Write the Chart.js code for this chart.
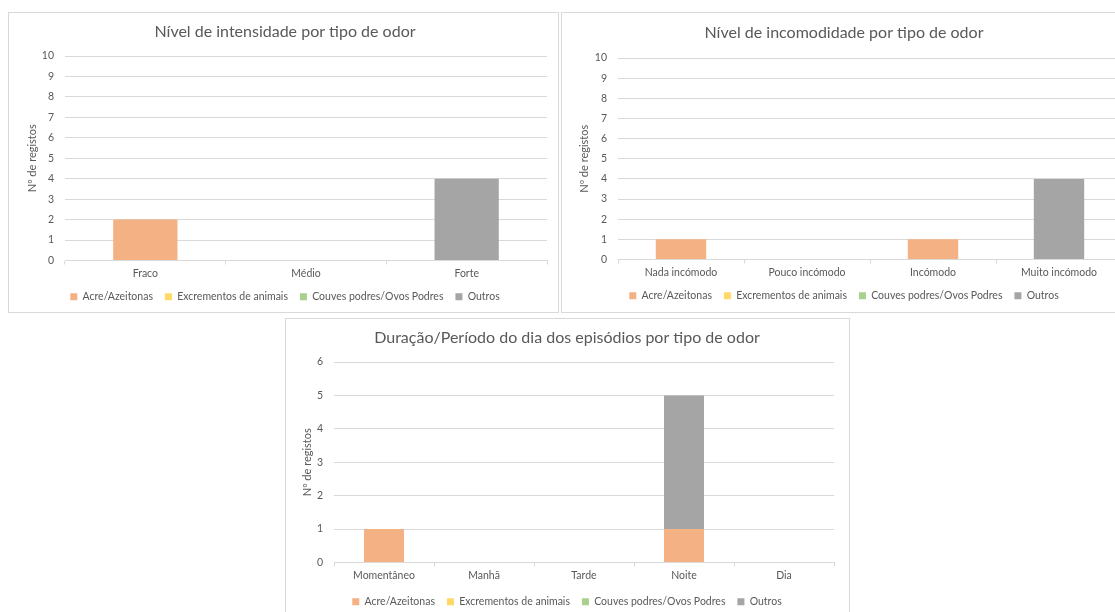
<!DOCTYPE html>
<html lang="pt">

<head>
    <title>Registos de odor</title>
    <meta charset="utf-8" />
    <script src="https://cdn.jsdelivr.net/npm/chart.js"></script>
    <style>
        html, body { margin: 0; padding: 0; background: #fff; overflow: hidden; width: 1115px; height: 612px; }
        .caixa { position: absolute; border: 1px solid #d9d9d9; background: #fff; }
        .caixa canvas { display: block; }
    </style>
</head>

<body>
    <div class="caixa" style="left:8px; top:12px; width:549px; height:299px;">
        <canvas id="grafIntensidade" width="549" height="299"></canvas>
    </div>
    <div class="caixa" style="left:561px; top:12px; width:569px; height:299px;">
        <canvas id="grafIncomodidade" width="569" height="299"></canvas>
    </div>
    <div class="caixa" style="left:285px; top:318px; width:563px; height:298px;">
        <canvas id="grafDuracao" width="563" height="298"></canvas>
    </div>

    <script>
        // tipos de odor (series)
        const tiposOdor = ['Acre/Azeitonas', 'Excrementos de animais', 'Couves podres/Ovos Podres', 'Outros'];

        // Nível de intensidade
        const intensidadeLabels = ['Fraco', 'Médio', 'Forte'];
        const intensidadeAcre = [2, 0, 0];
        const intensidadeExcrementos = [0, 0, 0];
        const intensidadeCouves = [0, 0, 0];
        const intensidadeOutros = [0, 0, 4];

        // Nível de incomodidade
        const incomodidadeLabels = ['Nada incómodo', 'Pouco incómodo', 'Incómodo', 'Muito incómodo'];
        const incomodidadeAcre = [1, 0, 1, 0];
        const incomodidadeExcrementos = [0, 0, 0, 0];
        const incomodidadeCouves = [0, 0, 0, 0];
        const incomodidadeOutros = [0, 0, 0, 4];

        // Duração / período do dia
        const duracaoLabels = ['Momentâneo', 'Manhã', 'Tarde', 'Noite', 'Dia'];
        const duracaoAcre = [1, 0, 0, 1, 0];
        const duracaoExcrementos = [0, 0, 0, 0, 0];
        const duracaoCouves = [0, 0, 0, 0, 0];
        const duracaoOutros = [0, 0, 0, 4, 0];

        const cores = ['#f4b183', '#ffd966', '#a9d18e', '#a5a5a5'];
        const corTexto = '#595959';
        const corGrelha = '#d9d9d9';
        const fonte = 'Lato, "Open Sans", sans-serif';

        Chart.defaults.font.family = fonte;
        Chart.defaults.color = corTexto;

        function grafico(id, titulo, labels, series, maxY, lay) {
            const ctx = document.querySelector(id).getContext('2d');
            return new Chart(ctx, {
                type: 'bar',
                data: {
                    labels: labels,
                    datasets: series.map((s, i) => ({
                        label: tiposOdor[i],
                        data: s,
                        backgroundColor: cores[i],
                        borderWidth: 0,
                        barPercentage: 1,
                        categoryPercentage: 0.4
                    }))
                },
                options: {
                    responsive: false,
                    animation: false,
                    layout: { padding: { left: lay.padEsq, right: lay.padDir, top: 0, bottom: lay.padBaixo } },
                    plugins: {
                        title: {
                            display: true,
                            text: titulo,
                            color: corTexto,
                            font: { size: 16, weight: 'normal' },
                            padding: { top: lay.tituloCima, bottom: lay.tituloBaixo }
                        },
                        legend: {
                            position: 'bottom',
                            labels: {
                                boxWidth: 7,
                                boxHeight: 7,
                                color: corTexto,
                                font: { size: 10.5 },
                                padding: 12
                            }
                        },
                        tooltip: { enabled: false }
                    },
                    scales: {
                        x: {
                            stacked: true,
                            grid: { offset: true, drawOnChartArea: false, tickLength: 4, color: corGrelha },
                            border: { color: corGrelha },
                            ticks: { color: corTexto, font: { size: 10.5 }, padding: 3, maxRotation: 0, autoSkip: false },
                            afterFit: s => { s.height = lay.altX; }
                        },
                        y: {
                            stacked: true,
                            min: 0,
                            max: maxY,
                            ticks: { stepSize: 1, color: corTexto, font: { size: 10.5 }, padding: 11 },
                            grid: { color: corGrelha, drawTicks: false },
                            border: { display: false },
                            title: {
                                display: true,
                                text: 'Nº de registos',
                                color: corTexto,
                                font: { size: 11 },
                                padding: { top: lay.tituloY, bottom: 0 }
                            },
                            afterFit: s => { s.width = lay.largY; }
                        }
                    }
                }
            });
        }

        grafico('#grafIntensidade', 'Nível de intensidade por tipo de odor', intensidadeLabels,
            [intensidadeAcre, intensidadeExcrementos, intensidadeCouves, intensidadeOutros], 10,
            { padEsq: 14, padDir: 11, padBaixo: 0, tituloCima: 9.5, tituloBaixo: 14.3, largY: 42, tituloY: 2.4, altX: 19 });

        grafico('#grafIncomodidade', 'Nível de incomodidade por tipo de odor', incomodidadeLabels,
            [incomodidadeAcre, incomodidadeExcrementos, incomodidadeCouves, incomodidadeOutros], 10,
            { padEsq: 4, padDir: 9, padBaixo: 1, tituloCima: 10.5, tituloBaixo: 15.3, largY: 52, tituloY: 11.4, altX: 19 });

        grafico('#grafDuracao', 'Duração/Período do dia dos episódios por tipo de odor', duracaoLabels,
            [duracaoAcre, duracaoExcrementos, duracaoCouves, duracaoOutros], 6,
            { padEsq: 14, padDir: 15, padBaixo: 0, tituloCima: 9.5, tituloBaixo: 14.3, largY: 34, tituloY: 0.4, altX: 22 });
    </script>
</body>

</html>
